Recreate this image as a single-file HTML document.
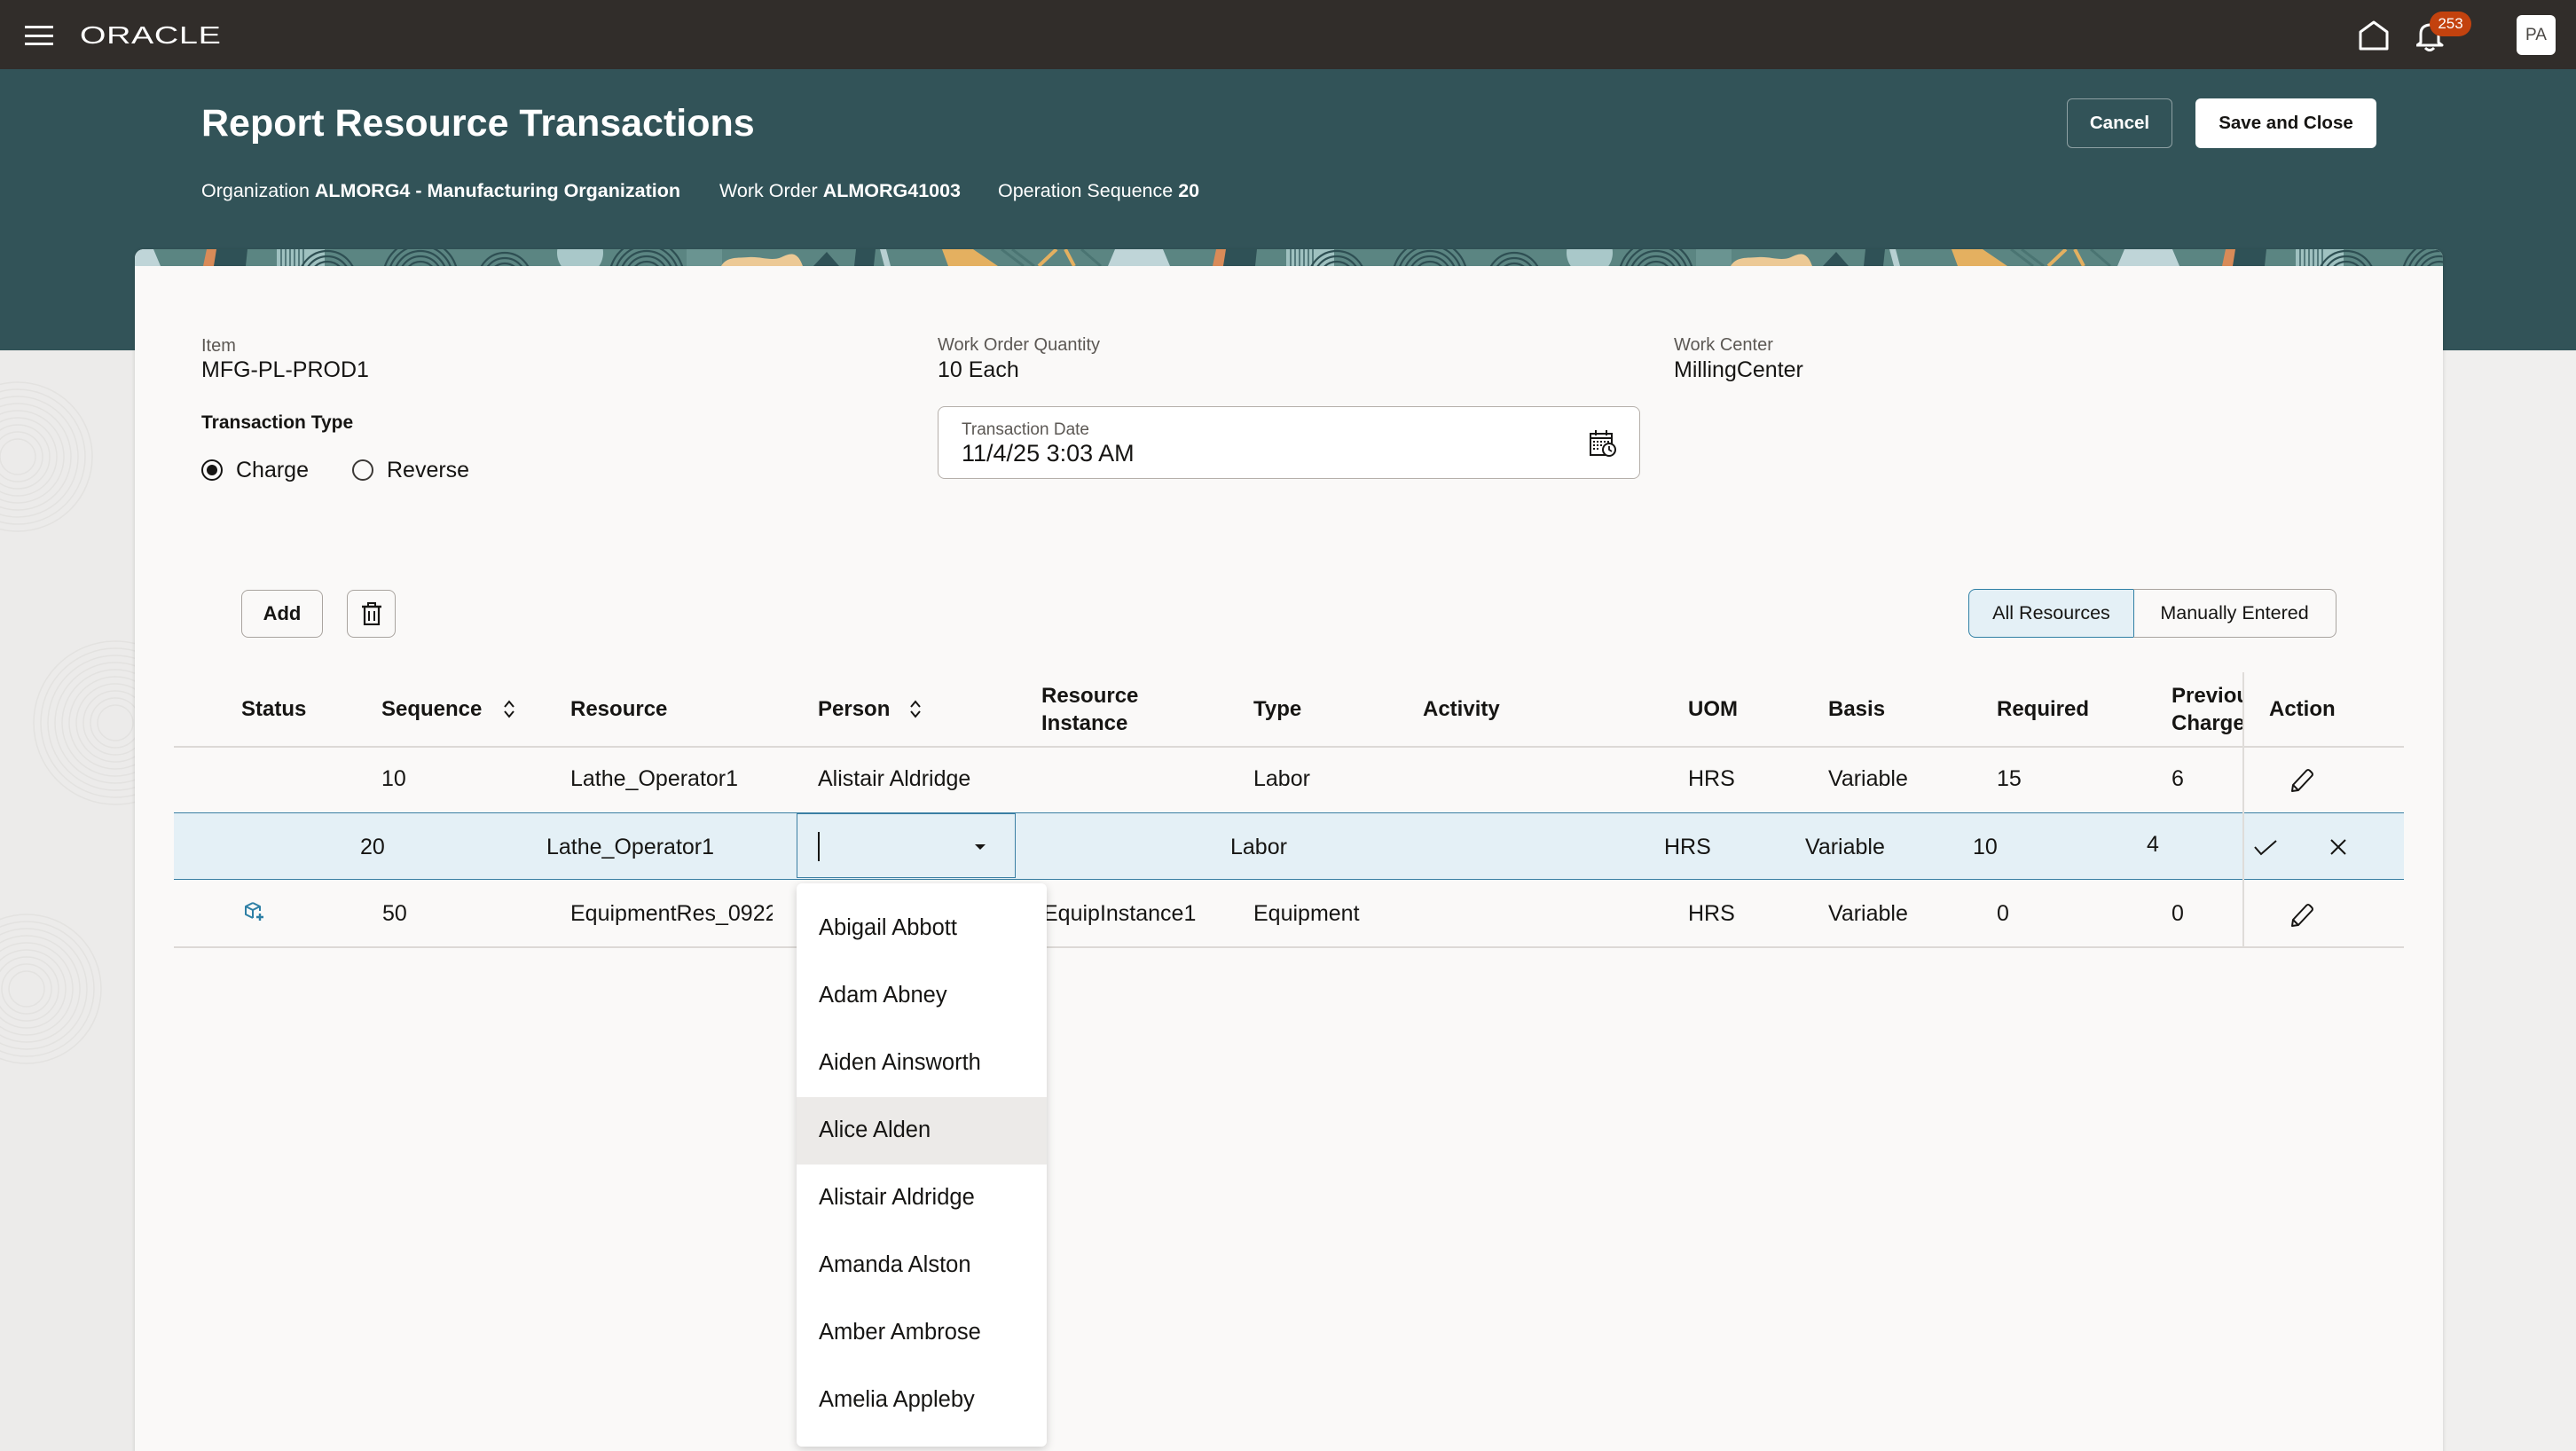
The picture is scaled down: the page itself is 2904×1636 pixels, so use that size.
<!DOCTYPE html>
<html><head><meta charset="utf-8">
<style>
*{margin:0;padding:0;box-sizing:border-box}
html,body{width:2904px;height:1636px;overflow:hidden}
body{position:relative;background:#f0efee;font-family:"Liberation Sans",Arial,sans-serif;color:#161513}
.t{position:absolute;white-space:nowrap;line-height:1}
.b{font-weight:bold}
.hd{font-size:24px;font-weight:bold}
.td{font-size:25px}
.lbl{font-size:20px;color:#5c5854}
.val{font-size:25px}
.btn{position:absolute;display:flex;align-items:center;justify-content:center;border-radius:8px}
.hl{position:absolute;height:1px;background:#dcd9d6}
.dd{position:absolute;left:0;width:282px;height:76px}
.ddt{position:absolute;left:25px;top:25px;font-size:25.5px;line-height:1;white-space:nowrap}
</style></head><body>

<!-- top bar -->
<div style="position:absolute;left:0;top:0;width:2904px;height:78px;background:#312d2a"></div>
<div style="position:absolute;left:28px;top:29px;width:32px;height:3px;background:#fff"></div>
<div style="position:absolute;left:28px;top:39px;width:32px;height:3px;background:#fff"></div>
<div style="position:absolute;left:28px;top:48px;width:32px;height:3px;background:#fff"></div>
<div class="t" style="left:90px;top:26px;font-size:28px;color:#fff;transform:scaleX(1.35);transform-origin:0 0;letter-spacing:0.5px">ORACLE</div>

<svg style="position:absolute;left:2659px;top:23px" width="34" height="34" viewBox="0 0 34 34">
<path d="M2,32 L2,13 L17,2 L32,13 L32,32 Z" fill="none" stroke="#fff" stroke-width="3" stroke-linejoin="round"/></svg>
<svg style="position:absolute;left:2724px;top:24px" width="32" height="34" viewBox="0 0 32 34">
<path d="M5,24 L5,14 Q5,5 15,4 Q25,5 25,14 L25,24 L29,27 L1,27 Z" fill="none" stroke="#fff" stroke-width="3" stroke-linejoin="round"/>
<path d="M10,30 Q15,35 20,30" fill="none" stroke="#fff" stroke-width="3"/></svg>
<div style="position:absolute;left:2739px;top:13px;width:47px;height:28px;border-radius:14px;background:#c3420e;color:#fff;font-size:17px;display:flex;align-items:center;justify-content:center">253</div>
<div style="position:absolute;left:2837px;top:17px;width:44px;height:45px;border-radius:6px;background:#fff;color:#4b4845;font-size:19px;display:flex;align-items:center;justify-content:center">PA</div>

<!-- teal header -->
<div style="position:absolute;left:0;top:78px;width:2904px;height:317px;background:#325358"></div>
<div class="t b" style="left:227px;top:117.5px;font-size:43px;color:#fff">Report Resource Transactions</div>
<div class="t" style="left:227px;top:205px;font-size:21.5px;color:#fff">Organization <b>ALMORG4 - Manufacturing Organization</b></div>
<div class="t" style="left:811px;top:205px;font-size:21.5px;color:#fff">Work Order <b>ALMORG41003</b></div>
<div class="t" style="left:1125px;top:205px;font-size:21.5px;color:#fff">Operation Sequence <b>20</b></div>
<div class="btn b" style="left:2330px;top:111px;width:119px;height:56px;border:1.5px solid rgba(255,255,255,0.45);color:#fff;font-size:20.5px;border-radius:6px">Cancel</div>
<div class="btn b" style="left:2475px;top:111px;width:204px;height:56px;background:#fff;color:#161513;font-size:20.5px;border-radius:6px">Save and Close</div>

<!-- left faint pattern -->
<svg style="position:absolute;left:0;top:395px" width="152" height="1241" viewBox="0 0 152 1241">
<rect width="152" height="1241" fill="#ecebea"/>
<g fill="none" stroke="#e3e2e0" stroke-width="1.5">
<circle cx="20" cy="120" r="20"/><circle cx="20" cy="120" r="28"/><circle cx="20" cy="120" r="36"/><circle cx="20" cy="120" r="44"/><circle cx="20" cy="120" r="52"/><circle cx="20" cy="120" r="60"/><circle cx="20" cy="120" r="68"/><circle cx="20" cy="120" r="76"/><circle cx="20" cy="120" r="84"/>
<circle cx="130" cy="420" r="20"/><circle cx="130" cy="420" r="28"/><circle cx="130" cy="420" r="36"/><circle cx="130" cy="420" r="44"/><circle cx="130" cy="420" r="52"/><circle cx="130" cy="420" r="60"/><circle cx="130" cy="420" r="68"/><circle cx="130" cy="420" r="76"/><circle cx="130" cy="420" r="84"/><circle cx="130" cy="420" r="92"/>
<circle cx="30" cy="720" r="20"/><circle cx="30" cy="720" r="28"/><circle cx="30" cy="720" r="36"/><circle cx="30" cy="720" r="44"/><circle cx="30" cy="720" r="52"/><circle cx="30" cy="720" r="60"/><circle cx="30" cy="720" r="68"/><circle cx="30" cy="720" r="76"/><circle cx="30" cy="720" r="84"/>
</g></svg>

<!-- card -->
<div style="position:absolute;left:152px;top:281px;width:2602px;height:1400px;background:#faf9f8;border-radius:10px 10px 0 0;box-shadow:0 1px 5px rgba(0,0,0,0.14);overflow:hidden">
<svg style="position:absolute;left:0;top:0" width="2602" height="19" viewBox="0 0 2602 19">
<defs>
<pattern id="bp" x="77" y="0" width="1138" height="19" patternUnits="userSpaceOnUse">
<rect width="1138" height="19" fill="#5b8582"/>
<polygon points="4,0 16,0 12,19 0,19" fill="#d98b58"/>
<polygon points="15,0 50,0 48,19 12,19" fill="#2f5156"/>
<rect x="83" y="0" width="54" height="19" fill="#9fc1c0"/>
<g stroke="#3c6266" stroke-width="1.5">
<line x1="88" y1="0" x2="88" y2="19"/><line x1="93" y1="0" x2="93" y2="19"/><line x1="98" y1="0" x2="98" y2="19"/><line x1="103" y1="0" x2="103" y2="19"/><line x1="108" y1="0" x2="108" y2="19"/><line x1="113" y1="0" x2="113" y2="19"/></g>
<g fill="none" stroke="#2e4f53" stroke-width="2.2">
<circle cx="140" cy="34" r="14"/><circle cx="140" cy="34" r="20"/><circle cx="140" cy="34" r="26"/><circle cx="140" cy="34" r="32"/>
<circle cx="245" cy="32" r="12"/><circle cx="245" cy="32" r="18"/><circle cx="245" cy="32" r="24"/><circle cx="245" cy="32" r="30"/><circle cx="245" cy="32" r="36"/><circle cx="245" cy="32" r="42"/>
<circle cx="340" cy="34" r="12"/><circle cx="340" cy="34" r="18"/><circle cx="340" cy="34" r="24"/><circle cx="340" cy="34" r="30"/>
</g>
<circle cx="425" cy="4" r="26" fill="#a9c8c9"/>
<g fill="none" stroke="#2e4f53" stroke-width="2.2">
<circle cx="500" cy="32" r="12"/><circle cx="500" cy="32" r="18"/><circle cx="500" cy="32" r="24"/><circle cx="500" cy="32" r="30"/><circle cx="500" cy="32" r="36"/><circle cx="500" cy="32" r="42"/>
</g>
<rect x="545" y="0" width="40" height="19" fill="#6a9491"/>
<path d="M584,19 C590,8 603,10 615,9 C630,8 640,14 652,9 C662,4 670,2 676,19 Z" fill="#ecc995"/>
<path d="M688,19 L703,3 L717,19 Z" fill="#2f5156"/>
<path d="M736,0 L758,0 L756,19 L734,19 Z" fill="#2f5156"/>
<path d="M763,0 L770,0 L775,19 L768,19 Z" fill="#b8d0d2"/>
<path d="M833,0 L868,0 L896,19 L840,19 Z" fill="#e4b060"/>
<g stroke="#4a7472" stroke-width="3"><line x1="900" y1="0" x2="925" y2="19"/><line x1="912" y1="0" x2="937" y2="19"/><line x1="990" y1="0" x2="1012" y2="19"/></g>
<line x1="962" y1="0" x2="942" y2="19" stroke="#e4b060" stroke-width="4"/>
<line x1="972" y1="0" x2="982" y2="19" stroke="#e4b060" stroke-width="4"/>
<path d="M1028,0 L1082,0 L1090,19 L1020,19 Z" fill="#bfd5d8"/>
</pattern>
</defs>
<rect width="2602" height="19" fill="url(#bp)"/>
</svg>
</div>

<!-- form -->
<div class="t lbl" style="left:227px;top:380px">Item</div>
<div class="t val" style="left:227px;top:404.5px">MFG-PL-PROD1</div>
<div class="t b" style="left:227px;top:465.5px;font-size:21px">Transaction Type</div>
<div style="position:absolute;left:227px;top:518px;width:24px;height:24px;border:2px solid #161513;border-radius:50%"></div>
<div style="position:absolute;left:233px;top:524px;width:12px;height:12px;background:#161513;border-radius:50%"></div>
<div class="t val" style="left:266px;top:517.5px">Charge</div>
<div style="position:absolute;left:397px;top:518px;width:24px;height:24px;border:2px solid #3c3936;border-radius:50%"></div>
<div class="t val" style="left:436px;top:517.5px">Reverse</div>

<div class="t lbl" style="left:1057px;top:379px">Work Order Quantity</div>
<div class="t val" style="left:1057px;top:405px">10 Each</div>
<div class="t lbl" style="left:1887px;top:379px">Work Center</div>
<div class="t val" style="left:1887px;top:405px">MillingCenter</div>

<div style="position:absolute;left:1057px;top:458px;width:792px;height:82px;border:1.5px solid #b5afaa;border-radius:8px;background:#fff"></div>
<div class="t" style="left:1084px;top:474.5px;font-size:19px;color:#5c5854">Transaction Date</div>
<div class="t" style="left:1084px;top:497.5px;font-size:27px">11/4/25 3:03 AM</div>
<svg style="position:absolute;left:1791px;top:484px" width="32" height="32" viewBox="0 0 32 32">
<rect x="2" y="5" width="24" height="24" fill="none" stroke="#161513" stroke-width="2"/>
<line x1="2" y1="10" x2="26" y2="10" stroke="#161513" stroke-width="2"/>
<line x1="8" y1="1" x2="8" y2="7" stroke="#161513" stroke-width="2"/><line x1="20" y1="1" x2="20" y2="7" stroke="#161513" stroke-width="2"/>
<g fill="#161513"><rect x="5" y="13" width="2" height="2"/><rect x="9" y="13" width="2" height="2"/><rect x="13" y="13" width="2" height="2"/><rect x="17" y="13" width="2" height="2"/><rect x="21" y="13" width="2" height="2"/>
<rect x="5" y="17" width="2" height="2"/><rect x="9" y="17" width="2" height="2"/><rect x="13" y="17" width="2" height="2"/><rect x="5" y="21" width="2" height="2"/><rect x="9" y="21" width="2" height="2"/></g>
<circle cx="23" cy="23" r="7" fill="#fff" stroke="#161513" stroke-width="2"/>
<path d="M23,19 L23,23 L26,25" fill="none" stroke="#161513" stroke-width="1.8"/>
</svg>

<!-- toolbar -->
<div class="btn b" style="left:272px;top:665px;width:92px;height:54px;border:1.5px solid #a9a49f;font-size:22px">Add</div>
<div class="btn" style="left:391px;top:665px;width:55px;height:54px;border:1.5px solid #a9a49f">
<svg width="22" height="26" viewBox="0 0 22 26"><path d="M7,4 L7,1 L15,1 L15,4" fill="none" stroke="#161513" stroke-width="2"/><line x1="0" y1="5" x2="22" y2="5" stroke="#161513" stroke-width="2.5"/><path d="M3,6 L3,25 L19,25 L19,6" fill="none" stroke="#161513" stroke-width="2.2"/><line x1="8" y1="10" x2="8" y2="21" stroke="#161513" stroke-width="2"/><line x1="14" y1="10" x2="14" y2="21" stroke="#161513" stroke-width="2"/></svg></div>
<div class="btn" style="left:2219px;top:664px;width:187px;height:55px;background:#e4f0f6;border:1.5px solid #2f7fa4;border-radius:8px 0 0 8px;font-size:21.5px">All Resources</div>
<div class="btn" style="left:2405px;top:664px;width:229px;height:55px;border:1.5px solid #a9a49f;border-left:none;border-radius:0 8px 8px 0;font-size:21.5px">Manually Entered</div>

<!-- table header -->
<div class="t hd" style="left:272px;top:788px">Status</div>
<div class="t hd" style="left:430px;top:788px">Sequence</div>
<svg style="position:absolute;left:567px;top:789px" width="14" height="21" viewBox="0 0 14 21"><path d="M2,8 L7,2 L12,8 M2,13 L7,19 L12,13" fill="none" stroke="#161513" stroke-width="2"/></svg>
<div class="t hd" style="left:643px;top:788px">Resource</div>
<div class="t hd" style="left:922px;top:788px">Person</div>
<svg style="position:absolute;left:1025px;top:789px" width="14" height="21" viewBox="0 0 14 21"><path d="M2,8 L7,2 L12,8 M2,13 L7,19 L12,13" fill="none" stroke="#161513" stroke-width="2"/></svg>
<div class="t hd" style="left:1174px;top:768.5px;line-height:31px">Resource<br>Instance</div>
<div class="t hd" style="left:1413px;top:788px">Type</div>
<div class="t hd" style="left:1604px;top:788px">Activity</div>
<div class="t hd" style="left:1903px;top:788px">UOM</div>
<div class="t hd" style="left:2061px;top:788px">Basis</div>
<div class="t hd" style="left:2251px;top:788px">Required</div>
<div style="position:absolute;left:2448px;top:768.5px;width:81px;height:70px;overflow:hidden"><div class="t hd" style="left:0;top:0;line-height:31px">Previous<br>Charge</div></div>
<div class="t hd" style="left:2558px;top:788px">Action</div>
<div class="hl" style="left:196px;top:841px;width:2514px;height:1.5px"></div>

<!-- row 1 -->
<div class="t td" style="left:430px;top:865.5px">10</div>
<div class="t td" style="left:643px;top:865.5px">Lathe_Operator1</div>
<div class="t td" style="left:922px;top:865.5px">Alistair Aldridge</div>
<div class="t td" style="left:1413px;top:865.5px">Labor</div>
<div class="t td" style="left:1903px;top:865.5px">HRS</div>
<div class="t td" style="left:2061px;top:865.5px">Variable</div>
<div class="t td" style="left:2251px;top:865.5px">15</div>
<div class="t td" style="left:2448px;top:865.5px">6</div>
<svg style="position:absolute;left:2581px;top:865px" width="28" height="29" viewBox="0 0 28 29"><path d="M3,27 L4,20 L19,4 Q21,2 23,4 L25,6 Q27,8 25,10 L10,26 Z" fill="none" stroke="#161513" stroke-width="2" stroke-linejoin="round"/><line x1="4" y1="20" x2="10" y2="26" stroke="#161513" stroke-width="2"/></svg>

<!-- row 2 (editing) -->
<div style="position:absolute;left:196px;top:916px;width:2514px;height:76px;background:#e4f0f6;border-top:1.5px solid #3a7fa3;border-bottom:1.5px solid #3a7fa3"></div>
<div class="t td" style="left:406px;top:942.5px">20</div>
<div class="t td" style="left:616px;top:942.5px">Lathe_Operator1</div>
<div style="position:absolute;left:898px;top:917px;width:247px;height:73px;border:1.5px solid #3a7fa3;background:#e4f0f6"></div>
<div style="position:absolute;left:922px;top:938px;width:2px;height:33px;background:#161513"></div>
<svg style="position:absolute;left:1098px;top:951px" width="14" height="8" viewBox="0 0 14 8"><path d="M1,1 L13,1 L7,7 Z" fill="#161513"/></svg>
<div class="t td" style="left:1387px;top:942.5px">Labor</div>
<div class="t td" style="left:1876px;top:942.5px">HRS</div>
<div class="t td" style="left:2035px;top:942.5px">Variable</div>
<div class="t td" style="left:2224px;top:942.5px">10</div>
<div class="t td" style="left:2420px;top:940px">4</div>
<svg style="position:absolute;left:2540px;top:946px" width="28" height="19" viewBox="0 0 28 19"><path d="M2,9 L9,17 L26,2" fill="none" stroke="#161513" stroke-width="2"/></svg>
<svg style="position:absolute;left:2626px;top:946px" width="20" height="18" viewBox="0 0 20 18"><path d="M2,1 L18,17 M18,1 L2,17" fill="none" stroke="#161513" stroke-width="2"/></svg>

<!-- row 3 -->
<svg style="position:absolute;left:275px;top:1016px" width="24" height="23" viewBox="0 0 24 23"><path d="M10,2 L18,6 L18,11 M10,2 L2,6 L2,15 L10,19 M2,6 L10,10 L18,6 M10,10 L10,19" fill="none" stroke="#2d7fa5" stroke-width="2" stroke-linejoin="round"/><path d="M18,14 L18,22 M14,18 L22,18" stroke="#2d7fa5" stroke-width="2.4"/></svg>
<div class="t td" style="left:431px;top:1017.5px">50</div>
<div style="position:absolute;left:643px;top:1010px;width:228px;height:40px;overflow:hidden"><div class="t td" style="left:0;top:7.5px">EquipmentRes_092201</div></div>
<div class="t td" style="left:1176px;top:1017.5px">EquipInstance1</div>
<div class="t td" style="left:1413px;top:1017.5px">Equipment</div>
<div class="t td" style="left:1903px;top:1017.5px">HRS</div>
<div class="t td" style="left:2061px;top:1017.5px">Variable</div>
<div class="t td" style="left:2251px;top:1017.5px">0</div>
<div class="t td" style="left:2448px;top:1017.5px">0</div>
<svg style="position:absolute;left:2581px;top:1017px" width="28" height="29" viewBox="0 0 28 29"><path d="M3,27 L4,20 L19,4 Q21,2 23,4 L25,6 Q27,8 25,10 L10,26 Z" fill="none" stroke="#161513" stroke-width="2" stroke-linejoin="round"/><line x1="4" y1="20" x2="10" y2="26" stroke="#161513" stroke-width="2"/></svg>
<div class="hl" style="left:196px;top:1067px;width:2514px;height:1.5px"></div>

<!-- vertical divider -->
<div style="position:absolute;left:2528px;top:758px;width:2px;height:310px;background:#dfdcd9"></div>

<!-- dropdown -->
<div style="position:absolute;left:898px;top:996px;width:282px;height:635px;background:#fff;border-radius:6px;box-shadow:0 3px 10px rgba(0,0,0,0.18);overflow:hidden">
<div class="dd" style="top:13px"><div class="ddt">Abigail Abbott</div></div>
<div class="dd" style="top:89px"><div class="ddt">Adam Abney</div></div>
<div class="dd" style="top:165px"><div class="ddt">Aiden Ainsworth</div></div>
<div class="dd" style="top:241px;background:#eceae8"><div class="ddt">Alice Alden</div></div>
<div class="dd" style="top:317px"><div class="ddt">Alistair Aldridge</div></div>
<div class="dd" style="top:393px"><div class="ddt">Amanda Alston</div></div>
<div class="dd" style="top:469px"><div class="ddt">Amber Ambrose</div></div>
<div class="dd" style="top:545px"><div class="ddt">Amelia Appleby</div></div>
</div>

</body></html>
